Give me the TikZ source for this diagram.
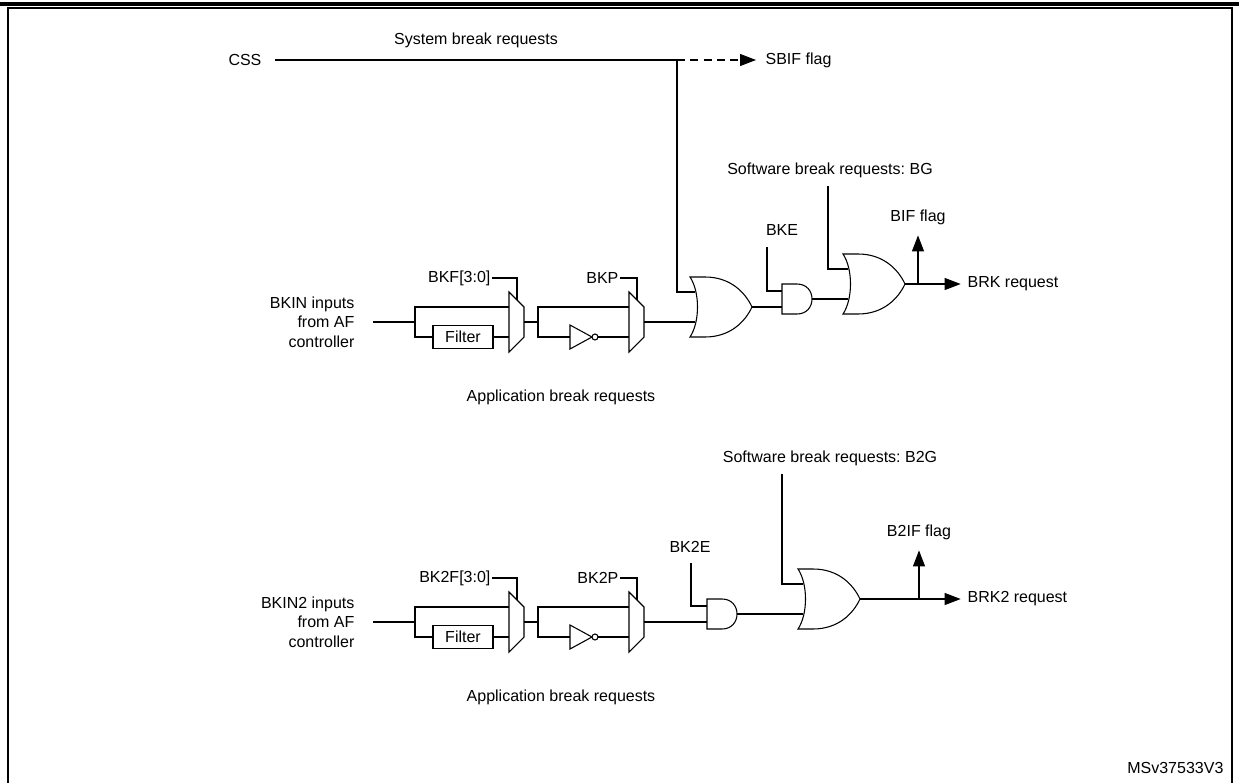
\documentclass[tikz,border=0pt]{standalone}
\usepackage{fontspec}
\setmainfont{Liberation Sans}
\usetikzlibrary{arrows.meta,positioning}
\frenchspacing

\begin{document}
\begin{tikzpicture}[
    x=0.75pt, y=-0.75pt,
    font=\fontsize{12}{14.5}\selectfont,
    wire/.style={line width=0.8pt},
    flag/.style={wire, -{Triangle[length=12pt,width=9pt]}},
    lbl/.style={inner sep=1pt},
    box/.style={draw, line width=0.8pt, minimum width=45pt, minimum height=17pt, inner sep=0pt},
    orgate/.pic={
        \draw[wire] (0,-30) .. controls (10,-15) and (10,15) .. (0,30)
            -- (15,30) .. controls (40,30) and (55,15) .. (62,0)
            .. controls (55,-15) and (40,-30) .. (15,-30) -- cycle;
        \coordinate (-in1) at (5,-15);
        \coordinate (-in2) at (5,15);
        \coordinate (-out) at (62,0);
    },
    andgate/.pic={
        \draw[wire] (0,-15) -- (15,-15) .. controls (35,-15) and (35,15) .. (15,15)
            -- (0,15) -- cycle;
        \coordinate (-in1) at (0,-8);
        \coordinate (-in2) at (0,8);
        \coordinate (-out) at (30,0);
    },
    mux/.pic={
        \draw[wire] (0,-30) -- (15,-15) -- (15,15) -- (0,30) -- cycle;
        \coordinate (-in1) at (0,-15);
        \coordinate (-in2) at (0,15);
        \coordinate (-sel) at (8,-22);
        \coordinate (-out) at (15,0);
    },
    inverter/.pic={
        \draw[wire] (0,-12) -- (22,0) -- (0,12) -- cycle;
        \draw[wire] (25,0) circle[radius=3];
        \coordinate (-in) at (0,0);
        \coordinate (-out) at (28,0);
    }
]
\useasboundingbox (0,0) rectangle (1239,782);

% Frame
\draw[line width=1pt] (8,790) -- (8,8) -- (1232,8) -- (1232,790);
\draw[line width=2.5pt] (0,4) -- (1239,4);

% System break path
\node[lbl, anchor=east] (css) at (263,60) {CSS};
\coordinate (sysj) at (677,60);
\node[lbl, anchor=west] (sbif) at (764,60) {SBIF flag};
\draw[wire] (css.east) ++(12,0) coordinate (cssw) -- (sysj)
    node[midway, above=8pt, lbl] (sysbrk) {System break requests};
\draw[wire, dash pattern=on 6pt off 4pt] (sysj) -- (740,60);
\draw[flag] (740,60) -- ([xshift=-6pt]sbif.west);

% Row blocks, repeated for BRK and BRK2
\foreach \r/\dy/\inp/\f/\p in {1/0/BKIN/BKF[3:0]/BKP, 2/300/BKIN2/BK2F[3:0]/BK2P}{
    \begin{scope}[yshift=-\dy*0.75pt]
        \node[lbl, align=right, anchor=east] (in\r) at (356,322) {\inp{} inputs\\from AF\\controller};
        \coordinate (split\r) at (415,322);
        \pic (muxa\r) at (509,322) {mux};
        \pic (muxb\r) at (629,322) {mux};
        \node[box] (filter\r) at (463,337) {Filter};
        \pic (inv\r) at (570,337) {inverter};
        \coordinate (splitb\r) at (538,322);
        \node[lbl, anchor=east] (bkf\r) at (492,278) {\f};
        \node[lbl, anchor=east] (bkp\r) at (620,278) {\p};
        \node[lbl] (app\r) at (561,397) {Application break requests};

        \draw[wire] (in\r.east) ++(17,0) -- (split\r);
        \draw[wire] (split\r) |- (muxa\r-in1);
        \draw[wire] (split\r) |- (filter\r.west);
        \draw[wire] (filter\r.east) -- (muxa\r-in2);
        \draw[wire] (muxa\r-out) -- (splitb\r);
        \draw[wire] (splitb\r) |- (muxb\r-in1);
        \draw[wire] (splitb\r) |- (inv\r-in);
        \draw[wire] (inv\r-out) -- (muxb\r-in2);
        \draw[wire] (bkf\r.east) -| (muxa\r-sel);
        \draw[wire] (bkp\r.east) -| (muxb\r-sel);
    \end{scope}
}

% BRK logic
\pic (or1) at (690,307) {orgate};
\pic (and1) at (782,299) {andgate};
\pic (or2) at (843,284) {orgate};
\node[lbl] (bke) at (782,230) {BKE};
\node[lbl] (swbg) at (830,170) {Software break requests: BG};
\node[lbl] (bif) at (918,217) {BIF flag};
\node[lbl, anchor=west] (brk) at (966,284) {BRK request};
\coordinate (bifj) at (918,284);

\draw[wire] (sysj) |- (or1-in1);
\draw[wire] (muxb1-out) -- (or1-in2);
\draw[wire] (or1-out) -- (and1-in2);
\draw[wire] (767,247) |- (and1-in1);
\draw[wire] (and1-out) -- (or2-in2);
\draw[wire] (828,186) |- (or2-in1);
\draw[wire] (or2-out) -- (bifj);
\draw[flag] (bifj) -- ([xshift=-4pt]brk.west);
\draw[flag] (bifj) -- ([yshift=-7pt]bif.south);

% BRK2 logic
\pic (and2) at (707,614) {andgate};
\pic (or3) at (798,599) {orgate};
\node[lbl] (bk2e) at (690,547) {BK2E};
\node[lbl] (swb2g) at (830,458) {Software break requests: B2G};
\node[lbl] (b2if) at (919,532) {B2IF flag};
\node[lbl, anchor=west] (brk2) at (966,599) {BRK2 request};
\coordinate (b2ifj) at (919,599);

\draw[wire] (muxb2-out) -- (and2-in2);
\draw[wire] (691,563) |- (and2-in1);
\draw[wire] (and2-out) -- (or3-in2);
\draw[wire] (782,474) |- (or3-in1);
\draw[wire] (or3-out) -- (b2ifj);
\draw[flag] (b2ifj) -- ([xshift=-4pt]brk2.west);
\draw[flag] (b2ifj) -- ([yshift=-7pt]b2if.south);

\node[lbl, anchor=east] (ref) at (1225,768) {MSv37533V3};
\end{tikzpicture}
\end{document}
